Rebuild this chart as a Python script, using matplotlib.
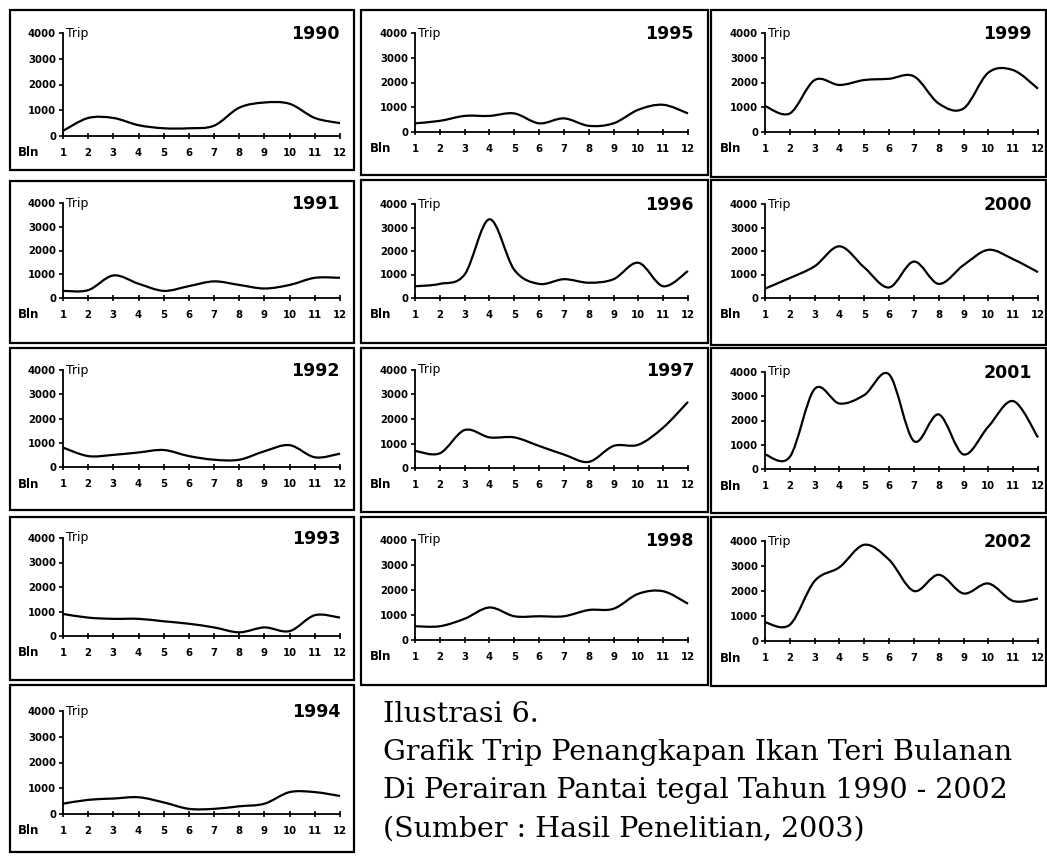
import numpy as np
import matplotlib.pyplot as plt
from matplotlib.path import Path
from matplotlib.patches import PathPatch, Rectangle

# --- Monthly fishing trips ---
months = list(range(1, 13))
month_labels = [str(m) for m in months]
y_ticks = [0, 1000, 2000, 3000, 4000]

trip_1990 = [200, 700, 700, 420, 300, 300, 400, 1100, 1300, 1250, 700, 500]
trip_1991 = [300, 330, 950, 600, 300, 500, 700, 550, 400, 550, 850, 850]
trip_1992 = [800, 450, 500, 600, 700, 450, 300, 300, 650, 900, 400, 550]
trip_1993 = [900, 750, 700, 700, 600, 500, 350, 150, 350, 200, 850, 750]
trip_1994 = [400, 550, 600, 650, 450, 200, 200, 300, 400, 850, 850, 700]
trip_1995 = [350, 450, 650, 650, 750, 350, 550, 250, 350, 900, 1100, 750]
trip_1996 = [500, 600, 1000, 3350, 1200, 600, 800, 650, 800, 1500, 500, 1150]
trip_1997 = [700, 600, 1550, 1250, 1250, 900, 550, 250, 900, 950, 1650, 2700]
trip_1998 = [550, 550, 850, 1300, 950, 950, 950, 1200, 1250, 1850, 1950, 1450]
trip_1999 = [1050, 750, 2100, 1900, 2100, 2150, 2250, 1150, 950, 2400, 2500, 1750]
trip_2000 = [400, 850, 1350, 2200, 1300, 450, 1550, 600, 1400, 2050, 1650, 1100]
trip_2001 = [600, 500, 3300, 2700, 3050, 3900, 1150, 2250, 600, 1750, 2800, 1300]
trip_2002 = [750, 650, 2400, 2950, 3850, 3250, 2000, 2650, 1900, 2300, 1600, 1700]

years = ['1990', '1991', '1992', '1993', '1994', '1995', '1996',
         '1997', '1998', '1999', '2000', '2001', '2002']
series = [trip_1990, trip_1991, trip_1992, trip_1993, trip_1994, trip_1995,
          trip_1996, trip_1997, trip_1998, trip_1999, trip_2000, trip_2001,
          trip_2002]

caption = ['Ilustrasi 6.',
           'Grafik Trip Penangkapan Ikan Teri Bulanan',
           'Di Perairan Pantai tegal Tahun 1990 - 2002',
           '(Sumber : Hasil Penelitian, 2003)']

W, H = 1047, 856

# panel frames (x0, y0, x1, y1) and axes box (x_left, x_right, y_top, y_bottom), pixels from top-left
frames = [(10, 10, 354, 170), (10, 181, 354, 343), (10, 348, 354, 510),
          (10, 517, 354, 680), (10, 685, 354, 852),
          (361, 10, 708, 175), (361, 180, 708, 343), (361, 348, 708, 512),
          (361, 517, 708, 685),
          (711, 10, 1046, 177), (711, 180, 1046, 345), (711, 348, 1046, 513),
          (711, 517, 1046, 686)]
boxes = [(63, 340, 33, 136), (63, 340, 203, 298), (63, 340, 370, 467),
         (63, 340, 538, 636), (63, 340, 711, 814),
         (415, 688, 33, 132), (415, 688, 204, 298), (415, 688, 370, 468),
         (415, 688, 540, 640),
         (765, 1038, 33, 132), (765, 1038, 204, 298), (765, 1038, 372, 469),
         (765, 1038, 541, 641)]


def smooth_path(x, y):
    # Excel-like smoothed line drawn as cubic Bezier segments
    pts = np.column_stack([x, y]).astype(float)
    ext = np.vstack([pts[0], pts, pts[-1]])
    verts = [pts[0]]
    codes = [Path.MOVETO]
    for i in range(len(pts) - 1):
        p0, p1, p2, p3 = ext[i], ext[i + 1], ext[i + 2], ext[i + 3]
        verts += [p1 + (p2 - p0) / 6, p2 - (p3 - p1) / 6, p2]
        codes += [Path.CURVE4] * 3
    return Path(verts, codes)


fig = plt.figure(figsize=(W / 100, H / 100), dpi=100)
tick_font = dict(family='DejaVu Sans', weight='bold', size=7.3)

for year, vals, fr, bx in zip(years, series, frames, boxes):
    x0, y0, x1, y1 = fr
    fig.patches.append(Rectangle((x0 / W, 1 - y1 / H), (x1 - x0) / W, (y1 - y0) / H,
                                 transform=fig.transFigure, fill=False,
                                 lw=1.6, ec='black'))
    xl, xr, yt, yb = bx
    ax = fig.add_axes([xl / W, 1 - yb / H, (xr - xl) / W, (yb - yt) / H])
    ax.patch.set_alpha(0)
    ax.add_patch(PathPatch(smooth_path(months, vals), fill=False, lw=1.6,
                           ec='black', clip_on=False))
    ax.set_xlim(1, 12)
    ax.set_ylim(0, 4000)
    for s in ['top', 'right']:
        ax.spines[s].set_visible(False)
    for s in ['left', 'bottom']:
        ax.spines[s].set_linewidth(1.3)
    ax.set_xticks(months)
    ax.set_xticklabels(month_labels, **tick_font)
    ax.set_yticks(y_ticks)
    ax.set_yticklabels([str(v) for v in y_ticks], **tick_font)
    ax.tick_params(axis='x', direction='inout', length=5, width=1.2, pad=6)
    ax.tick_params(axis='y', direction='out', length=3, width=1.2, pad=2)
    ax.text(0.01, 1.0, 'Trip', transform=ax.transAxes, fontsize=9,
            va='center', ha='left')
    fig.text((x1 - 14) / W, 1 - (yt + 1) / H, year, fontsize=12.5,
             fontweight='bold', ha='right', va='center')
    fig.text((xl - 45) / W, 1 - (yb + 17) / H, 'Bln', fontsize=8.5,
             fontweight='bold', ha='left', va='center')

for i, line in enumerate(caption):
    fig.text(383 / W, 1 - (714 + i * 38.5) / H, line, fontsize=20.5,
             family='DejaVu Serif', ha='left', va='center')

fig.savefig('out.png', dpi=100)
